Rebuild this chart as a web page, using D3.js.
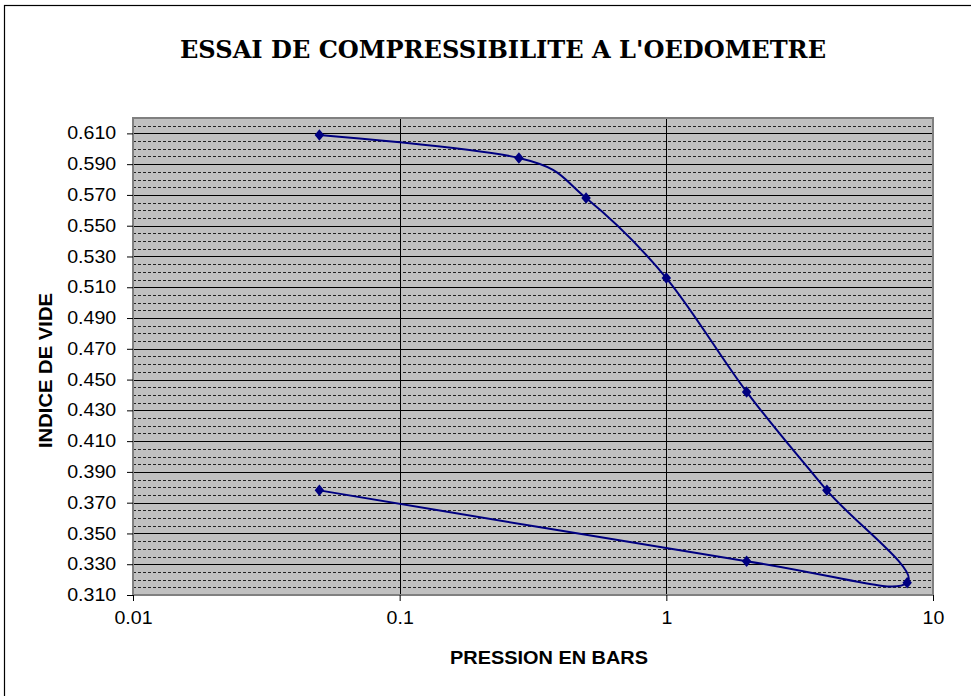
<!DOCTYPE html>
<html>
<head>
<meta charset="utf-8">
<script src="https://cdn.jsdelivr.net/npm/d3@7/dist/d3.min.js"></script>
<style>
  body { margin: 0; background: #fff; }
  svg { display: block; }
  .tick text { font-family: "Liberation Sans", Arial, sans-serif; font-size: 17.5px; fill: #000; }
</style>
</head>
<body>
<svg id="chart" width="971" height="696"></svg>
<script>
// data
const pressure  = [0.05, 0.28, 0.5, 1, 2, 4, 8, 2, 0.05];
const voidRatio = [0.609, 0.594, 0.568, 0.516, 0.442, 0.378, 0.318, 0.332, 0.378];

const xTicks = [0.01, 0.1, 1, 10];
const xTickLabels = ["0.01", "0.1", "1", "10"];
const yTicks = [0.31, 0.33, 0.35, 0.37, 0.39, 0.41, 0.43, 0.45, 0.47, 0.49, 0.51, 0.53, 0.55, 0.57, 0.59, 0.61];
const yMin = 0.31, yMax = 0.62, yMinorStep = 0.005;

const titleText = "ESSAI DE COMPRESSIBILITE A L'OEDOMETRE";
const xTitle = "PRESSION EN BARS";
const yTitle = "INDICE DE VIDE";

const svg = d3.select('#chart');
const plotLeft = 133, plotRight = 933, plotTop = 118, plotBottom = 595;

// outer frame (runs off the right and bottom of the page)
svg.append('rect')
  .attr('x', 4.5).attr('y', 5.5)
  .attr('width', 1000).attr('height', 720)
  .attr('fill', '#fff').attr('stroke', '#000').attr('stroke-width', 1.2);

const x = d3.scaleLog().domain([0.01, 10]).range([plotLeft, plotRight]);
const y = d3.scaleLinear().domain([yMin, yMax]).range([plotBottom, plotTop]);

// plot area
svg.append('rect')
  .attr('x', plotLeft).attr('y', plotTop)
  .attr('width', plotRight - plotLeft).attr('height', plotBottom - plotTop)
  .attr('fill', '#c0c0c0');

const grid = svg.append('g');

// minor horizontal gridlines (dashed)
const minor = d3.range(Math.round((yMax - yMin) / yMinorStep) + 1)
  .map(i => +(yMin + i * yMinorStep).toFixed(3))
  .filter(v => yTicks.indexOf(v) < 0 && v > yMin && v < yMax);
grid.selectAll('line.minor').data(minor).enter().append('line')
  .attr('class', 'minor')
  .attr('x1', plotLeft).attr('x2', plotRight)
  .attr('y1', d => Math.round(y(d)) + 0.5).attr('y2', d => Math.round(y(d)) + 0.5)
  .attr('stroke', '#222').attr('stroke-width', 1)
  .attr('stroke-dasharray', '3,2');

// major horizontal gridlines
grid.selectAll('line.major').data(yTicks).enter().append('line')
  .attr('class', 'major')
  .attr('x1', plotLeft).attr('x2', plotRight)
  .attr('y1', d => Math.round(y(d)) + 0.5).attr('y2', d => Math.round(y(d)) + 0.5)
  .attr('stroke', '#000').attr('stroke-width', 1);

// vertical gridlines
grid.selectAll('line.vert').data(xTicks.slice(1, -1)).enter().append('line')
  .attr('class', 'vert')
  .attr('x1', d => Math.round(x(d)) + 0.5).attr('x2', d => Math.round(x(d)) + 0.5)
  .attr('y1', plotTop).attr('y2', plotBottom)
  .attr('stroke', '#000').attr('stroke-width', 1);

// plot border
svg.append('rect')
  .attr('x', plotLeft).attr('y', plotTop)
  .attr('width', plotRight - plotLeft).attr('height', plotBottom - plotTop)
  .attr('fill', 'none').attr('stroke', '#808080').attr('stroke-width', 2);

// axes
const xAxis = d3.axisBottom(x)
  .tickValues(xTicks)
  .tickFormat((d, i) => xTickLabels[i])
  .tickSize(6).tickPadding(11);
svg.append('g')
  .attr('transform', `translate(0,${plotBottom})`)
  .call(xAxis)
  .call(g => g.select('.domain').remove())
  .call(g => g.selectAll('.tick line').attr('stroke', '#000'))
  .call(g => g.selectAll('.tick text').attr('transform', 'scale(1.12,1)'));

const yAxis = d3.axisLeft(y)
  .tickValues(yTicks)
  .tickFormat(d3.format('.3f'))
  .tickSize(6).tickPadding(9);
svg.append('g')
  .attr('transform', `translate(${plotLeft},0)`)
  .call(yAxis)
  .call(g => g.select('.domain').remove())
  .call(g => g.selectAll('.tick line').attr('stroke', '#000'))
  .call(g => g.selectAll('.tick text').attr('transform', 'scale(1.12,1)'));

// series
const pts = pressure.map((p, i) => [p, voidRatio[i]]);
const line = d3.line()
  .x(d => x(d[0])).y(d => y(d[1]))
  .curve(d3.curveCatmullRom.alpha(0));

svg.append('path')
  .datum(pts)
  .attr('d', line)
  .attr('fill', 'none')
  .attr('stroke', '#000080')
  .attr('stroke-width', 2);

svg.selectAll('path.marker').data(pts).enter().append('path')
  .attr('class', 'marker')
  .attr('d', d3.symbol(d3.symbolSquare, 50))
  .attr('transform', d => `translate(${x(d[0])},${y(d[1])}) scale(0.95,1.15) rotate(45)`)
  .attr('fill', '#000080');

// titles
svg.append('text')
  .attr('x', 503).attr('y', 58)
  .attr('text-anchor', 'middle')
  .attr('font-family', '"DejaVu Serif", serif')
  .attr('font-weight', 'bold')
  .attr('font-size', 25)
  .attr('textLength', 646)
  .attr('lengthAdjust', 'spacingAndGlyphs')
  .text(titleText);

svg.append('text')
  .attr('x', 549).attr('y', 664)
  .attr('text-anchor', 'middle')
  .attr('font-family', '"Liberation Sans", Arial, sans-serif')
  .attr('font-weight', 'bold')
  .attr('font-size', 17.5)
  .attr('textLength', 198)
  .attr('lengthAdjust', 'spacingAndGlyphs')
  .text(xTitle);

svg.append('text')
  .attr('transform', 'translate(51.5,370.5) rotate(-90)')
  .attr('text-anchor', 'middle')
  .attr('font-family', '"Liberation Sans", Arial, sans-serif')
  .attr('font-weight', 'bold')
  .attr('font-size', 17.5)
  .attr('textLength', 155)
  .attr('lengthAdjust', 'spacingAndGlyphs')
  .text(yTitle);
</script>
</body>
</html>
